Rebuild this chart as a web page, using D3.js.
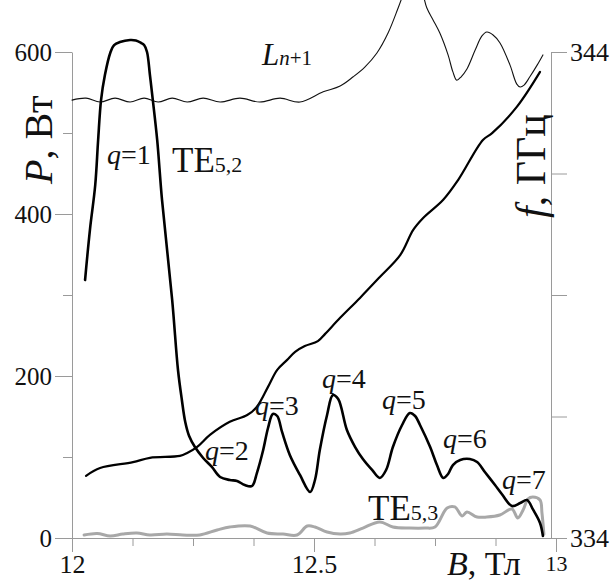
<!DOCTYPE html>
<html>
<head>
<meta charset="utf-8">
<script src="https://cdn.jsdelivr.net/npm/d3@7"></script>
<style>
  html, body { margin: 0; padding: 0; background: #fff; }
  svg { display: block; font-family: "Liberation Serif", "Times New Roman", serif; }
  svg .tick text { font-family: "Liberation Serif", "Times New Roman", serif; }
</style>
</head>
<body>
<svg id="chart" width="612" height="583"></svg>
<script>
// Output power of the TE5,2 mode vs magnetic field
const powerB = [12.027,12.037,12.048,12.054,12.060,12.068,12.079,12.087,12.099,12.120,12.132,12.143,12.149,12.155,12.161,12.167,12.176,12.186,12.207,12.219,12.227,12.234,12.242,12.254,12.271,12.289,12.306,12.326,12.341,12.357,12.372,12.382,12.395,12.405,12.415,12.424,12.434,12.450,12.471,12.492,12.502,12.512,12.527,12.539,12.550,12.568,12.585,12.601,12.620,12.636,12.649,12.663,12.682,12.698,12.709,12.719,12.740,12.754,12.767,12.777,12.787,12.802,12.822,12.837,12.853,12.874,12.888,12.909,12.926,12.940,12.953,12.967,12.973];
const powerP = [318.5,380.2,435.8,491.4,540.7,571.6,598.8,608.6,612.3,614.8,614.2,611.1,608.6,600.0,571.6,540.7,491.4,417.3,293.8,207.4,170.4,143.2,125.9,112.3,98.8,87.7,75.3,71.6,70.4,65.4,64.2,80.2,108.6,135.8,153.1,150.6,130.9,102.5,77.8,56.8,71.6,108.6,151.9,176.5,171.6,133.3,112.3,97.5,84.0,74.1,84.0,112.3,139.5,154.3,150.6,139.5,112.3,90.1,74.1,79.0,90.1,96.3,97.5,93.8,81.5,65.4,54.3,39.5,43.2,46.9,34.6,18.5,2.5];

// Output power of the TE5,3 mode
const power53B = [12.025,12.052,12.079,12.105,12.134,12.161,12.196,12.229,12.264,12.300,12.326,12.368,12.403,12.436,12.465,12.486,12.502,12.527,12.554,12.574,12.601,12.636,12.663,12.698,12.729,12.750,12.775,12.791,12.806,12.816,12.837,12.857,12.884,12.909,12.921,12.932,12.942,12.952,12.967,12.971,12.975];
const power53P = [3.7,5.6,2.5,4.9,6.2,3.7,4.9,3.7,3.7,9.9,13.6,14.8,6.2,4.9,3.7,14.8,13.6,7.4,4.9,6.2,12.3,19.8,13.6,12.3,12.3,13.6,37.0,38.3,27.2,32.1,25.9,25.9,28.4,35.8,24.7,34.6,48.1,50.6,46.9,30.9,4.9];

// Generation frequency (right axis)
const freqB = [12.029,12.058,12.126,12.161,12.223,12.238,12.258,12.285,12.326,12.362,12.382,12.405,12.424,12.444,12.461,12.481,12.508,12.523,12.554,12.595,12.636,12.678,12.705,12.725,12.767,12.798,12.849,12.868,12.919,12.967];
const freqF = [335.28,335.44,335.56,335.65,335.69,335.75,335.87,336.12,336.39,336.53,336.70,337.11,337.46,337.66,337.83,337.95,338.05,338.20,338.53,338.94,339.37,339.82,340.34,340.58,340.96,341.37,342.19,342.33,342.87,343.59];

// L_{n+1} trace, drawn against the right-hand scale
const lineLB = [12.000,12.029,12.058,12.089,12.120,12.149,12.178,12.207,12.238,12.271,12.306,12.347,12.388,12.430,12.471,12.519,12.554,12.581,12.605,12.630,12.653,12.674,12.688,12.702,12.719,12.733,12.746,12.760,12.777,12.787,12.795,12.804,12.816,12.833,12.847,12.857,12.870,12.884,12.905,12.919,12.926,12.934,12.946,12.961,12.973];
const lineLF = [343.01,343.05,342.97,343.05,342.97,343.05,342.97,343.05,342.97,343.05,342.97,343.05,342.97,343.05,342.97,343.18,343.30,343.49,343.69,343.98,344.39,344.91,345.28,345.58,345.38,344.91,344.66,344.39,343.94,343.59,343.42,343.49,343.65,344.04,344.33,344.41,344.35,344.19,343.73,343.34,343.28,343.32,343.49,343.73,343.94];

// Axis ticks
const bTicks = [12, 12.5, 13];
const bTickLabels = ["12", "12.5", "13"];
const bMinor = [12.125, 12.25, 12.375, 12.625, 12.75, 12.875];
const pTicks = [0, 200, 400, 600];
const pMinor = [100, 300, 500];
const fTicks = [334, 336.5, 339, 341.5, 344];
const fTickLabels = ["334", "", "", "", "344"];

// Mode labels
const qLabels = ["1", "2", "3", "4", "5", "6", "7"];

const svg = d3.select("#chart");
const axisColor = "#9a9a9a";
const serif = "'Liberation Serif', 'Times New Roman', serif";

const x = d3.scaleLinear().domain([12, 13]).range([72, 556]);
const yP = d3.scaleLinear().domain([0, 600]).range([538, 52]);
const yF = d3.scaleLinear().domain([334, 344]).range([538, 52]);
const rightX = 551;

function styleAxis(g, fontSize) {
  g.attr("font-family", serif).attr("font-size", fontSize + "px");
  g.selectAll("path.domain").attr("stroke", axisColor).attr("stroke-width", 1);
  g.selectAll(".tick line").attr("stroke", axisColor).attr("stroke-width", 1);
  g.selectAll(".tick text").attr("fill", "#111").attr("font-size", fontSize + "px")
    .attr("font-family", serif);
}

// left axis
const gL = svg.append("g").attr("transform", `translate(${x(12)},0)`)
  .call(d3.axisLeft(yP).tickValues(pTicks).tickSize(17).tickPadding(3).tickSizeOuter(0));
styleAxis(gL, 25);
const gLm = svg.append("g").attr("transform", `translate(${x(12)},0)`)
  .call(d3.axisLeft(yP).tickValues(pMinor).tickSize(9).tickFormat(""));
gLm.select("path.domain").remove();
styleAxis(gLm, 25);

// bottom axis
const gB = svg.append("g").attr("transform", `translate(0,${yP(0)})`)
  .call(d3.axisBottom(x).tickValues(bTicks).tickSize(14).tickPadding(3).tickSizeOuter(0)
    .tickFormat((d, i) => bTickLabels[i]));
styleAxis(gB, 26);
gB.selectAll(".tick text").filter(d => d === 13).attr("font-size", "22px");
const gBm = svg.append("g").attr("transform", `translate(0,${yP(0)})`)
  .call(d3.axisBottom(x).tickValues(bMinor).tickSize(8).tickFormat(""));
gBm.select("path.domain").remove();
styleAxis(gBm, 26);

// right axis
const gR = svg.append("g").attr("transform", `translate(${rightX},0)`)
  .call(d3.axisRight(yF).tickValues(fTicks).tickSize(16).tickPadding(3).tickSizeOuter(0)
    .tickFormat((d, i) => fTickLabels[i]));
styleAxis(gR, 26);

// curves
const curve = d3.curveCatmullRom.alpha(0.5);
function drawLine(bs, vs, yScale, color, width) {
  const pts = bs.map((b, i) => [b, vs[i]]);
  svg.append("path")
    .datum(pts)
    .attr("fill", "none")
    .attr("stroke", color)
    .attr("stroke-width", width)
    .attr("stroke-linejoin", "round")
    .attr("stroke-linecap", "round")
    .attr("d", d3.line().x(d => x(d[0])).y(d => yScale(d[1])).curve(curve));
}

drawLine(lineLB, lineLF, yF, "#111", 1.1);
drawLine(power53B, power53P, yP, "#a8a8a8", 3);
drawLine(freqB, freqF, yF, "#000", 2.2);
drawLine(powerB, powerP, yP, "#000", 2.6);

// text annotations
function qLabel(n, px, py) {
  const t = svg.append("text").attr("x", px).attr("y", py)
    .attr("font-family", serif).attr("font-size", "28px").attr("fill", "#111");
  t.append("tspan").attr("font-style", "italic").text("q");
  t.append("tspan").text("=" + n);
}
const qPos = [[107, 164], [205, 460], [255, 415], [322, 388], [382, 409], [443, 448], [502, 489]];
qLabels.forEach((n, i) => qLabel(n, qPos[i][0], qPos[i][1]));

function teLabel(sub, px, py) {
  const t = svg.append("text").attr("x", px).attr("y", py)
    .attr("font-family", serif).attr("font-size", "35px").attr("fill", "#111");
  t.append("tspan").text("TE");
  t.append("tspan").attr("font-size", "22px").text(sub);
}
teLabel("5,2", 172, 172);
teLabel("5,3", 368, 520);

const lt = svg.append("text").attr("x", 262).attr("y", 65)
  .attr("font-family", serif).attr("font-size", "31px").attr("fill", "#111");
lt.append("tspan").attr("font-style", "italic").text("L");
lt.append("tspan").attr("font-size", "21px").attr("font-style", "italic").text("n");
lt.append("tspan").attr("font-size", "21px").text("+1");

// axis titles
const pt = svg.append("text").attr("transform", "translate(52,184) rotate(-90)")
  .attr("font-family", serif).attr("font-size", "40px").attr("fill", "#111");
pt.append("tspan").attr("font-style", "italic").text("P");
pt.append("tspan").text(", Вт");

const ft = svg.append("text").attr("transform", "translate(545,218) rotate(-90)")
  .attr("font-family", serif).attr("font-size", "42px").attr("fill", "#111");
ft.append("tspan").attr("font-style", "italic").text("f");
ft.append("tspan").text(", ГГц");

const bt = svg.append("text").attr("x", 447).attr("y", 575)
  .attr("font-family", serif).attr("font-size", "34px").attr("fill", "#111");
bt.append("tspan").attr("font-style", "italic").text("B");
bt.append("tspan").text(", Тл");
</script>
</body>
</html>
